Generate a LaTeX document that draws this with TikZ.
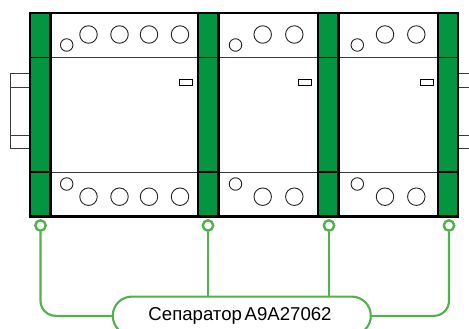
\documentclass[tikz,border=0pt]{standalone}
\usepackage{fontspec}
\setmainfont{Liberation Sans}
\definecolor{sepgreen}{HTML}{03953F}
\definecolor{linkgreen}{HTML}{4FB24A}
\definecolor{rulegray}{HTML}{3A3A3A}
\tikzset{
  strip/.style={fill=sepgreen,draw=none},
  bigpin/.style={circle,draw=black!85,line width=0.9pt,fill=white,minimum size=17.5pt,inner sep=0pt},
  smallpin/.style={circle,draw=black!85,line width=0.9pt,fill=white,minimum size=12.5pt,inner sep=0pt},
  heavy/.style={draw=black,line width=2.4pt},
  thinrule/.style={draw=rulegray,line width=1pt},
  striprule/.style={draw=black,line width=1.2pt},
  railline/.style={draw=rulegray,line width=1pt},
  flag/.style={draw=black,line width=0.9pt,fill=white},
  dot/.style={circle,draw=linkgreen,line width=2.4pt,fill=white,minimum size=10.4pt,inner sep=0pt},
  link/.style={draw=linkgreen,line width=2.1pt},
  labelbox/.style={draw=linkgreen,line width=2.1pt,fill=white,rounded corners=19pt,minimum width=258pt,minimum height=38.4pt,inner sep=0pt,font=\fontsize{18.6}{22}\selectfont}
}
\begin{document}
\begin{tikzpicture}[x=1pt,y=-1pt]
\useasboundingbox (0,0) rectangle (469,329);
% DIN rails
\foreach \xa/\xb in {10/30,458/469}{
  \foreach \yy in {73.5,88,135,148}{\draw[railline] (\xa,\yy) -- (\xb,\yy);}
}
\draw[railline] (10,73.5) -- (10,148);
% green separators
\foreach \xa/\xb in {30/50,198/218,318/338,438/458}{
  \fill[strip] (\xa,13) rectangle (\xb,216.5);
}
% module rules
\foreach \yy in {57.7,172}{
  \draw[thinrule] (30,\yy) -- (458,\yy);
  \foreach \xa/\xb in {30/50,198/218,318/338,438/458}{
    \draw[striprule] (\xa,\yy) -- (\xb,\yy);
  }
}
% outer + separator edges
\draw[heavy] (29.8,13) -- (458.2,13);
\draw[heavy] (29.8,216.5) -- (458.2,216.5);
\draw[draw=black,line width=1.6pt] (29.8,12) -- (29.8,217.5);
\draw[draw=black,line width=1.6pt] (458,12) -- (458,217.5);
\foreach \xx in {50.5,198,218.5,318,338.5,438}{
  \draw[heavy] (\xx,13) -- (\xx,216.5);
}
% pins
\foreach \xx in {88.5,119.5,149,180,262.7,294.3,385,416.3}{
  \node[bigpin] at (\xx,34.5) {};
  \node[bigpin] at (\xx,196.7) {};
}
\foreach \xx in {66.7,235.5,357.3}{
  \node[smallpin] at (\xx,45) {};
  \node[smallpin] at (\xx,184) {};
}
% flags
\foreach \xx in {179,298.7,420.7}{
  \draw[flag] (\xx,79) rectangle ++(13,6.2);
}
% label and connectors
\node[labelbox] (lab) at (241.8,315.8) {\hspace*{-3.5pt}Сепаратор\hspace{-2.4pt} A9A27062};
\node[dot] (d1) at (40.5,225.5) {};
\node[dot] (d2) at (208,225.5) {};
\node[dot] (d3) at (329,225.5) {};
\node[dot] (d4) at (449,225.5) {};
\draw[link,rounded corners=15pt] (d1.south) |- (lab.west);
\draw[link,rounded corners=15pt] (d4.south) |- (lab.east);
\draw[link] (d2.south) -- (d2.south |- lab.north);
\draw[link] (d3.south) -- (d3.south |- lab.north);
\end{tikzpicture}
\end{document}
